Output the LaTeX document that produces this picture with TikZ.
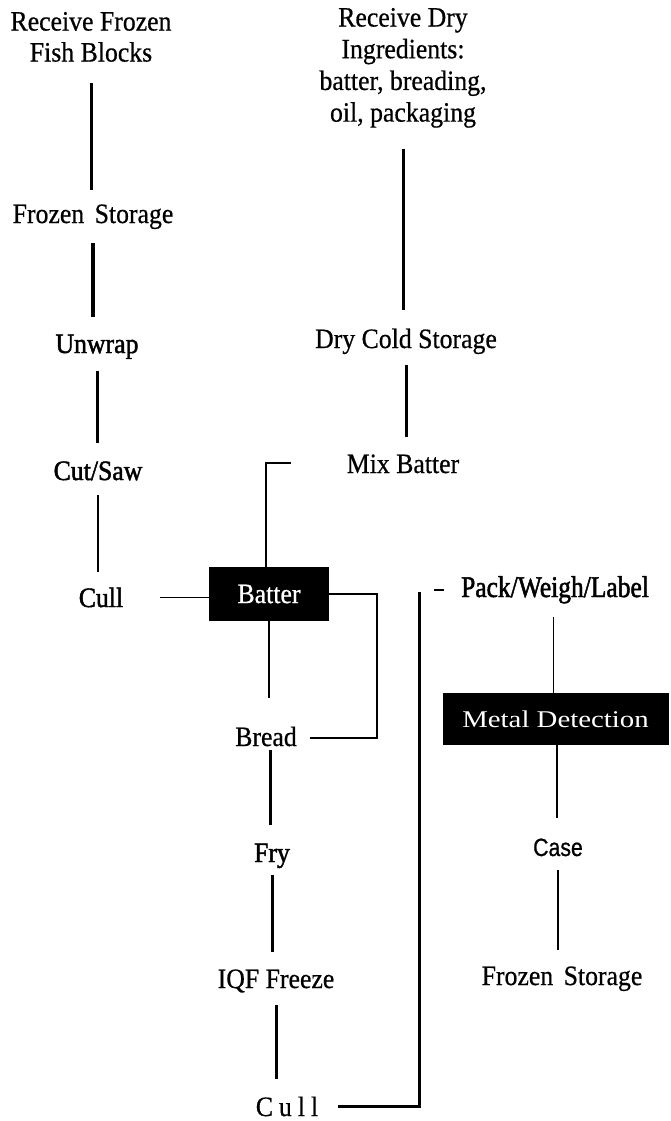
\documentclass[tikz,border=0pt]{standalone}
\usepackage{fontspec}
\setmainfont{Liberation Serif}[FakeStretch=0.92, FakeBold=0.6]
\newfontfamily\heavyfont{Liberation Serif}[FakeStretch=0.92, FakeBold=1.6]
\newfontfamily\widefont{Liberation Serif}[FakeStretch=1.2]
\newfontfamily\narrowfont{Liberation Serif}[FakeStretch=0.85, FakeBold=1.6]
\newfontfamily\casefont{Liberation Sans}[FakeStretch=0.85, FakeBold=0.8]
\pgfdeclarelayer{bg}
\pgfsetlayers{bg,main}
\begin{document}
\begin{tikzpicture}[x=1pt,y=-1pt,
  lbl/.style={inner sep=0pt, outer sep=0pt, anchor=base, font=\fontsize{28}{31}\selectfont},
  heavy/.style={lbl, font=\heavyfont\fontsize{28}{31}\selectfont},
  blackbox/.style={fill=black, text=white, inner sep=0pt, outer sep=0pt},
  ln/.style={line width=3pt},
  thin/.style={line width=1.6pt},
  mid/.style={line width=2pt}]
\useasboundingbox (0,0) rectangle (670,1121);

% left column
\node[lbl, anchor=north, align=center] (ffb) at (91,12) {Receive Frozen\\Fish Blocks};
\node[lbl] (fs1) at (93,223) {Frozen\hspace{4pt} Storage};
\node[heavy] (unwrap) at (97,353) {Unwrap};
\node[heavy] (cutsaw) at (98,480) {Cut/Saw};
\node[heavy] (cull1) at (101,607) {Cull};

% middle column
\node[lbl, anchor=north, align=center, font=\fontsize{28}{31.7}\selectfont] (rdi) at (403,8)
  {Receive Dry\\Ingredients:\\batter, breading,\\oil, packaging};
\node[lbl] (dcs) at (406,348) {Dry Cold Storage};
\node[lbl] (mix) at (403,473) {Mix Batter};

\node[blackbox, minimum width=120pt, minimum height=54pt, font=\fontsize{28}{31}\selectfont] (batter) at (269,594) {Batter};
\node[lbl] (bread) at (266,746) {Bread};
\node[heavy] (fry) at (272,862) {Fry};
\node[lbl] (iqf) at (276,988) {IQF Freeze};
\node[lbl] (cull2) at (287,1116) {C\hspace{6pt}u\hspace{6pt}l\hspace{6pt}l};

% right column
\node[lbl, font=\narrowfont\fontsize{30}{33}\selectfont] (pack) at (555,597) {Pack/Weigh/Label};
\node[blackbox, minimum width=226pt, minimum height=52pt, font=\widefont\fontsize{24}{28}\selectfont] (metal) at (555.5,719) {Metal Detection};
\node[lbl, font=\casefont\fontsize{25}{28}\selectfont] (case) at (558,856) {Case};
\node[lbl] (fs2) at (562,985) {Frozen\hspace{4pt} Storage};

\begin{pgfonlayer}{bg}
\fill[white] (0,0) rectangle (670,1121);
% connectors, left column
\draw[ln] ([yshift=-21pt]ffb.south) -- ([yshift=33pt]fs1.base -| ffb.south);
\draw[line width=3.5pt] ([yshift=-20pt]fs1.base) -- ([yshift=36pt]unwrap.base -| fs1.base);
\draw[ln] ([yshift=-18pt]unwrap.base) -- ([yshift=37pt]cutsaw.base -| unwrap.base);
\draw[thin] ([yshift=-15pt]cutsaw.base) -- ([yshift=35pt]cull1.base -| cutsaw.base);
\draw[thin] ([xshift=37pt]cull1.east) -- (cull1.east -| batter.west);

% connectors, middle column
\draw[ln] ([yshift=-21pt]rdi.south) -- ([yshift=38pt]dcs.base -| rdi.south);
\draw[ln] ([yshift=-17pt]dcs.base) -- ([yshift=36pt]mix.base -| dcs.base);
\draw[mid] ([xshift=-3pt]batter.north) |- ([xshift=-56pt,yshift=10pt]mix.base west);
\draw[thin] (batter.east) -| ([xshift=80pt,yshift=8pt]bread.base east) -- ([xshift=13pt,yshift=8pt]bread.base east);
\draw[mid] (batter.south) -- ([yshift=48pt]bread.base -| batter.south);
\draw[ln] ([xshift=4pt,yshift=-4pt]bread.base) -- ([xshift=4pt,yshift=37pt]fry.base -| bread.base);
\draw[ln] ([yshift=-13pt]fry.base) -- ([yshift=36pt]iqf.base -| fry.base);
\draw[ln] ([yshift=-17pt]iqf.base) -- ([yshift=37pt]cull2.base -| iqf.base);
\draw[line width=3.2pt] ([xshift=20pt]cull2.east) -| ([xshift=-42pt,yshift=5pt]pack.base west);
\draw[mid] ([xshift=-27pt,yshift=7pt]pack.base west) -- ([xshift=-17pt,yshift=7pt]pack.base west);

% connectors, right column
\draw[thin] ([xshift=-1.5pt,yshift=-20pt]pack.base) -- ([xshift=-1.5pt]pack.base |- metal.north);
\draw[thin] ([xshift=1.5pt]metal.south) -- ([xshift=1.5pt,yshift=38pt]case.base -| metal.south);
\draw[line width=2.7pt] ([yshift=-14pt]case.base) -- ([yshift=35pt]fs2.base -| case.base);
\end{pgfonlayer}
\end{tikzpicture}
\end{document}
